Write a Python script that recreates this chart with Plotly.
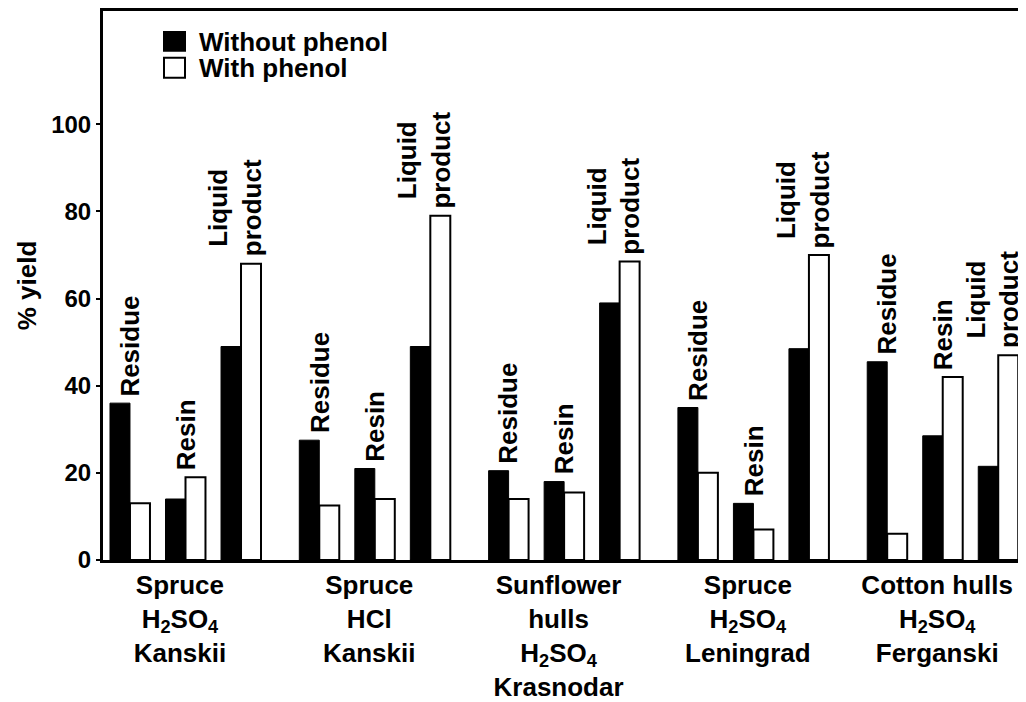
import plotly.graph_objects as go

# ---- data ----
groups = [
    "Spruce<br>H<sub>2</sub>SO<sub>4</sub><br>Kanskii",
    "Spruce<br>HCl<br>Kanskii",
    "Sunflower<br>hulls<br>H<sub>2</sub>SO<sub>4</sub><br>Krasnodar",
    "Spruce<br>H<sub>2</sub>SO<sub>4</sub><br>Leningrad",
    "Cotton hulls<br>H<sub>2</sub>SO<sub>4</sub><br>Ferganski",
]
products = ["Residue", "Resin", "Liquid<br>product"]
without_phenol = [
    [36, 14, 49],
    [27.5, 21, 49],
    [20.5, 18, 59],
    [35, 13, 48.5],
    [45.5, 28.5, 21.5],
]
with_phenol = [
    [13, 19, 68],
    [12.5, 14, 79],
    [14, 15.5, 68.5],
    [20, 7, 70],
    [6, 42, 47],
]
y_ticks = [0, 20, 40, 60, 80, 100]
series_names = ["Without phenol", "With phenol"]

# ---- layout helpers ----
GROUP_STEP = 3.41
BAR_W = 0.36
FONT = "Liberation Sans, Arial, Helvetica, sans-serif"

xs, yb, yw, lab_x, lab_y, lab_t = [], [], [], [], [], []
for g in range(len(groups)):
    for k in range(len(products)):
        x = g * GROUP_STEP + k
        xs.append(x)
        yb.append(without_phenol[g][k])
        yw.append(with_phenol[g][k])
        lab_x.append(x)
        lab_y.append(max(without_phenol[g][k], with_phenol[g][k]))
        lab_t.append(products[k])

fig = go.Figure()
fig.add_trace(go.Bar(
    x=xs, y=yb, name=series_names[0], width=BAR_W, offset=-BAR_W,
    marker=dict(color="black", line=dict(color="black", width=1)),
    showlegend=False,
))
fig.add_trace(go.Bar(
    x=xs, y=yw, name=series_names[1], width=BAR_W, offset=0,
    marker=dict(color="white", line=dict(color="black", width=2)),
    showlegend=False,
))

for x, y, t in zip(lab_x, lab_y, lab_t):
    fig.add_annotation(
        x=x, y=y, text=t, textangle=-90, showarrow=False,
        xanchor="center", yanchor="bottom", yshift=5, align="center",
        xshift=-6 if "<br>" in t else 0,
        font=dict(family=FONT, size=26, color="black", weight="bold"),
    )

# legend drawn manually (large square swatches); coords in page pixels
PLOT_L, PLOT_R, PLOT_T, PLOT_B = 103, 1026, 10, 562

def px_to_paper_x(px):
    return (px - PLOT_L) / float(PLOT_R - PLOT_L)

def px_to_paper_y(py):
    return (PLOT_B - py) / float(PLOT_B - PLOT_T)

swatches = [("black", 31, 50, 41), ("white", 57, 77, 67)]
for (col, top, bot, mid), name in zip(swatches, series_names):
    fig.add_shape(
        type="rect", xref="paper", yref="paper",
        x0=px_to_paper_x(164), x1=px_to_paper_x(185),
        y0=px_to_paper_y(bot), y1=px_to_paper_y(top),
        fillcolor=col, line=dict(color="black", width=2),
    )
    fig.add_annotation(
        xref="paper", yref="paper", x=px_to_paper_x(197), y=px_to_paper_y(mid),
        text=name, showarrow=False, xanchor="left", yanchor="middle",
        font=dict(family=FONT, size=26, color="black", weight="bold"),
    )

group_centers = [g * GROUP_STEP + 0.9 for g in range(len(groups))]

# page has an 8px body margin, so the figure is drawn offset by 8px
OFF = 8
fig.update_layout(
    width=1026 - OFF, height=702 - OFF,
    margin=dict(l=PLOT_L - OFF, r=0, t=PLOT_T - OFF, b=702 - PLOT_B),
    paper_bgcolor="white", plot_bgcolor="white",
    barmode="overlay",
    font=dict(family=FONT, size=26, color="black"),
    xaxis=dict(
        range=[-0.486, 16.14],
        tickvals=group_centers, ticktext=groups,
        showline=True, linecolor="black", linewidth=3, mirror=True,
        ticks="", showgrid=False, zeroline=False,
        tickfont=dict(family=FONT, size=26, color="black", weight="bold"),
    ),
    yaxis=dict(
        range=[0, 126],
        tickvals=y_ticks,
        showline=True, linecolor="black", linewidth=3, mirror=False,
        ticks="outside", ticklen=4, tickwidth=1.5, tickcolor="black",
        showgrid=False, zeroline=False,
        tickfont=dict(family=FONT, size=24, color="black", weight="bold"),
        title=dict(text="% yield", standoff=8,
                   font=dict(family=FONT, size=26, color="black", weight="bold")),
    ),
)

fig.write_html("out.html")
